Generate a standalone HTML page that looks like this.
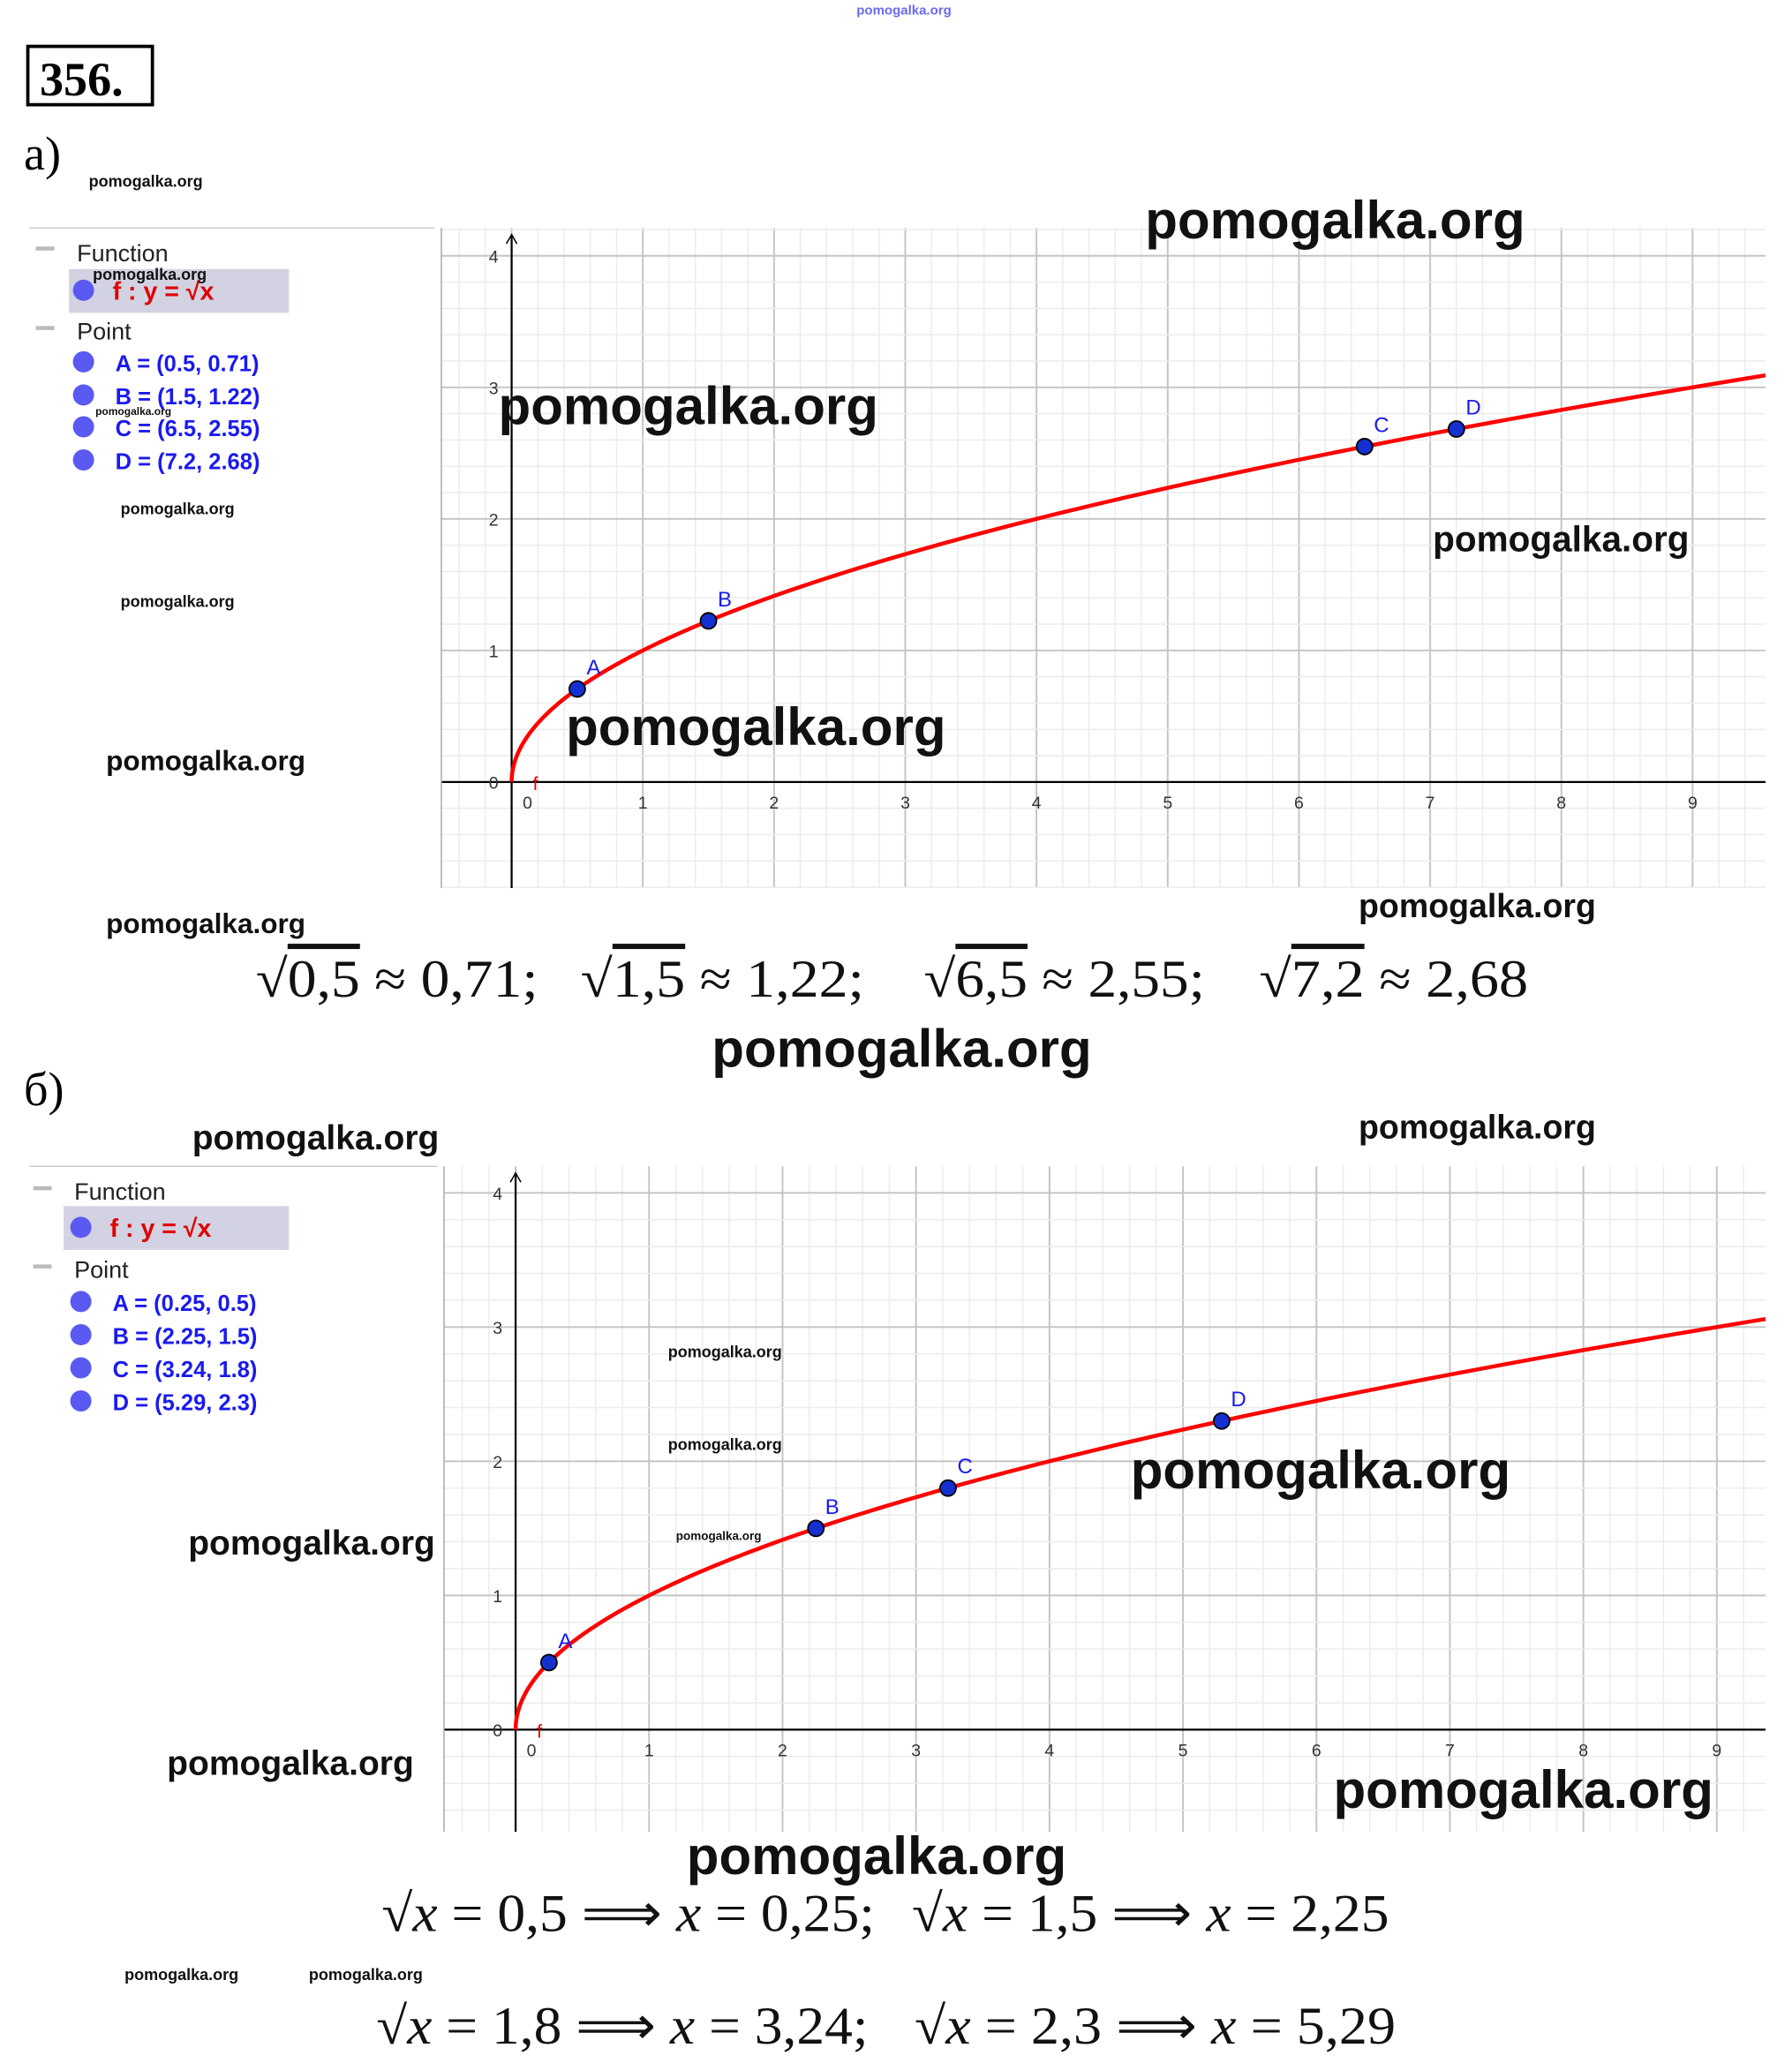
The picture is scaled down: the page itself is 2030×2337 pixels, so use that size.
<!DOCTYPE html>
<html><head><meta charset="utf-8"><style>
html,body{margin:0;padding:0;background:#fff;}
svg{display:block;}
.wm{font-family:"Liberation Sans",sans-serif;font-weight:bold;fill:#111;}
.lp{font-family:"Liberation Sans",sans-serif;font-size:18px;fill:#222;}
.pt{font-family:"Liberation Sans",sans-serif;font-size:17px;font-weight:bold;fill:#1a1aee;}
.fn{font-family:"Liberation Sans",sans-serif;font-size:19px;font-weight:bold;fill:#e00000;}
.tk{font-family:"Liberation Sans",sans-serif;font-size:13px;fill:#333;}
.math{font-family:"Liberation Serif",serif;font-size:40px;fill:#111;}
.pl{font-family:"Liberation Sans",sans-serif;font-size:16px;fill:#1a1aee;}
</style></head><body>
<svg id="s" width="2030" height="2337" viewBox="0 0 1352 1556.5" preserveAspectRatio="none" xmlns="http://www.w3.org/2000/svg">
<rect width="1352" height="1557" fill="#fff"/>
<text x="682" y="11" class="wm" font-size="10" style="fill:#6a6af0" text-anchor="middle">pomogalka.org</text>
<rect x="21" y="35" width="94" height="44" fill="none" stroke="#000" stroke-width="2.5"/>
<text x="30" y="72" font-family="Liberation Serif,serif" font-weight="bold" font-size="36">356.</text>
<text x="18" y="128" font-family="Liberation Serif,serif" font-size="36">а)</text>
<text x="18" y="834" font-family="Liberation Serif,serif" font-size="36">б)</text>
<g id="ga"></g><g id="gb"></g>

<!-- panel a -->
<line x1="22" y1="172" x2="328" y2="172" stroke="#ccc"/>
<line x1="333" y1="172" x2="333" y2="670" stroke="#aaa"/>
<rect x="27" y="186" width="14" height="3" fill="#bbb"/>
<text x="58" y="197" class="lp">Function</text>
<rect x="52" y="203" width="166" height="33" fill="#d2d2e2"/>
<circle cx="63" cy="219" r="8" fill="#5a5af2"/>
<text x="85" y="226" class="fn">f : y = √x</text>
<rect x="27" y="246" width="14" height="3" fill="#bbb"/>
<text x="58" y="256" class="lp">Point</text>
<circle cx="63" cy="273" r="8" fill="#5a5af2"/><text x="87" y="280" class="pt">A = (0.5, 0.71)</text>
<circle cx="63" cy="298" r="8" fill="#5a5af2"/><text x="87" y="305" class="pt">B = (1.5, 1.22)</text>
<circle cx="63" cy="322" r="8" fill="#5a5af2"/><text x="87" y="329" class="pt">C = (6.5, 2.55)</text>
<circle cx="63" cy="347" r="8" fill="#5a5af2"/><text x="87" y="354" class="pt">D = (7.2, 2.68)</text>
<!-- panel b -->
<line x1="22" y1="880" x2="330" y2="880" stroke="#ccc"/>
<line x1="335" y1="880" x2="335" y2="1382" stroke="#aaa"/>
<rect x="25" y="895" width="14" height="3" fill="#bbb"/>
<text x="56" y="905" class="lp">Function</text>
<rect x="48" y="910" width="170" height="33" fill="#d2d2e2"/>
<circle cx="61" cy="926" r="8" fill="#5a5af2"/>
<text x="83" y="933" class="fn">f : y = √x</text>
<rect x="25" y="954" width="14" height="3" fill="#bbb"/>
<text x="56" y="964" class="lp">Point</text>
<circle cx="61" cy="982" r="8" fill="#5a5af2"/><text x="85" y="989" class="pt">A = (0.25, 0.5)</text>
<circle cx="61" cy="1007" r="8" fill="#5a5af2"/><text x="85" y="1014" class="pt">B = (2.25, 1.5)</text>
<circle cx="61" cy="1032" r="8" fill="#5a5af2"/><text x="85" y="1039" class="pt">C = (3.24, 1.8)</text>
<circle cx="61" cy="1057" r="8" fill="#5a5af2"/><text x="85" y="1064" class="pt">D = (5.29, 2.3)</text>

<!-- math -->
<text x="193" y="752" class="math" textLength="213" lengthAdjust="spacingAndGlyphs">√<tspan text-decoration="overline">0,5</tspan> ≈ 0,71;</text>
<text x="438" y="752" class="math" textLength="214" lengthAdjust="spacingAndGlyphs">√<tspan text-decoration="overline">1,5</tspan> ≈ 1,22;</text>
<text x="697" y="752" class="math" textLength="212" lengthAdjust="spacingAndGlyphs">√<tspan text-decoration="overline">6,5</tspan> ≈ 2,55;</text>
<text x="950" y="752" class="math" textLength="203" lengthAdjust="spacingAndGlyphs">√<tspan text-decoration="overline">7,2</tspan> ≈ 2,68</text>
<text x="288" y="1457" class="math" textLength="372" lengthAdjust="spacingAndGlyphs">√<tspan font-style="italic">x</tspan> = 0,5 ⟹ <tspan font-style="italic">x</tspan> = 0,25;</text>
<text x="688" y="1457" class="math" textLength="360" lengthAdjust="spacingAndGlyphs">√<tspan font-style="italic">x</tspan> = 1,5 ⟹ <tspan font-style="italic">x</tspan> = 2,25</text>
<text x="284" y="1542" class="math" textLength="371" lengthAdjust="spacingAndGlyphs">√<tspan font-style="italic">x</tspan> = 1,8 ⟹ <tspan font-style="italic">x</tspan> = 3,24;</text>
<text x="690" y="1542" class="math" textLength="363" lengthAdjust="spacingAndGlyphs">√<tspan font-style="italic">x</tspan> = 2,3 ⟹ <tspan font-style="italic">x</tspan> = 5,29</text>

<!-- watermarks -->
<text x="864" y="180" class="wm" font-size="40">pomogalka.org</text>
<text x="376" y="320" class="wm" font-size="40">pomogalka.org</text>
<text x="427" y="562" class="wm" font-size="40">pomogalka.org</text>
<text x="1081" y="416" class="wm" font-size="27">pomogalka.org</text>
<text x="537" y="805" class="wm" font-size="40">pomogalka.org</text>
<text x="853" y="1123" class="wm" font-size="40">pomogalka.org</text>
<text x="1006" y="1364" class="wm" font-size="40">pomogalka.org</text>
<text x="518" y="1414" class="wm" font-size="40">pomogalka.org</text>
<text x="80" y="581" class="wm" font-size="21">pomogalka.org</text>
<text x="80" y="704" class="wm" font-size="21">pomogalka.org</text>
<text x="1025" y="692" class="wm" font-size="25">pomogalka.org</text>
<text x="145" y="867" class="wm" font-size="26">pomogalka.org</text>
<text x="1025" y="859" class="wm" font-size="25">pomogalka.org</text>
<text x="142" y="1173" class="wm" font-size="26">pomogalka.org</text>
<text x="126" y="1339" class="wm" font-size="26">pomogalka.org</text>
<text x="67" y="141" class="wm" font-size="12">pomogalka.org</text>
<text x="70" y="211" class="wm" font-size="12">pomogalka.org</text>
<text x="91" y="388" class="wm" font-size="12">pomogalka.org</text>
<text x="91" y="458" class="wm" font-size="12">pomogalka.org</text>
<text x="504" y="1024" class="wm" font-size="12">pomogalka.org</text>
<text x="504" y="1094" class="wm" font-size="12">pomogalka.org</text>
<text x="510" y="1162" class="wm" font-size="9">pomogalka.org</text>
<text x="72" y="313" class="wm" font-size="8">pomogalka.org</text>
<text x="94" y="1494" class="wm" font-size="12">pomogalka.org</text>
<text x="233" y="1494" class="wm" font-size="12">pomogalka.org</text>
</svg>
<script>
var NS="http://www.w3.org/2000/svg";
function el(p,n,a){var e=document.createElementNS(NS,n);for(var k in a)e.setAttribute(k,a[k]);p.appendChild(e);return e;}
function chart(id,c,pts){
 var g=document.getElementById(id);
 var X=function(v){return c.ox+v*c.ux},Y=function(v){return c.oy-v*c.uy};
 for(var i=-3;i<=50;i++){var x=X(i*0.2);if(x<c.x0||x>c.x1)continue;el(g,"line",{x1:x,y1:c.y0,x2:x,y2:c.y1,stroke:i%5==0?"#c4c4c4":"#ececec","stroke-width":i%5==0?1.3:1});}
 for(var i=-6;i<=25;i++){var y=Y(i*0.2);if(y<c.y0||y>c.y1)continue;el(g,"line",{x1:c.x0,y1:y,x2:c.x1,y2:y,stroke:i%5==0?"#c4c4c4":"#ececec","stroke-width":i%5==0?1.3:1});}
 el(g,"line",{x1:c.x0,y1:c.oy,x2:c.x1,y2:c.oy,stroke:"#000","stroke-width":1.5});
 el(g,"line",{x1:c.ox,y1:c.y0+5,x2:c.ox,y2:c.y1,stroke:"#000","stroke-width":1.5});
 el(g,"path",{d:"M"+(c.ox-4)+","+(c.y0+12)+"L"+c.ox+","+(c.y0+5)+"L"+(c.ox+4)+","+(c.y0+12),fill:"none",stroke:"#000"});
 for(var i=0;i<=9;i++){var t=el(g,"text",{x:X(i)+(i==0?12:0),y:c.oy+20,"class":"tk","text-anchor":"middle"});t.textContent=i;}
 for(var i=0;i<=4;i++){var t=el(g,"text",{x:c.ox-10,y:Y(i)+5,"class":"tk","text-anchor":"end"});t.textContent=i;}
 var d="M"+X(0)+","+Y(0);for(var v=0.0005;v<=9.6;v*=1.02){var x=X(v);if(x>c.x1)break;d+="L"+x.toFixed(2)+","+Y(Math.sqrt(v)).toFixed(2);}
 var v=(c.x1-c.ox)/c.ux;d+="L"+c.x1+","+Y(Math.sqrt(v));
 el(g,"path",{d:d,fill:"none",stroke:"#f00","stroke-width":3});
 var t=el(g,"text",{x:c.ox+16,y:c.oy+6,fill:"#e00","font-size":"14","font-family":"Liberation Sans"});t.textContent="f";
 pts.forEach(function(p){var x=X(p[1]),y=Y(Math.sqrt(p[1]));el(g,"circle",{cx:x,cy:y,r:6,fill:"#1530d0",stroke:"#000","stroke-width":1.2});var t=el(g,"text",{x:x+7,y:y-11,"class":"pl"});t.textContent=p[0];});
}
chart("ga",{x0:333,x1:1332,y0:172,y1:670,ox:386,oy:590,ux:99,uy:99.25},[["A",0.5],["B",1.5],["C",6.5],["D",7.2]]);
chart("gb",{x0:335,x1:1332,y0:880,y1:1382,ox:389,oy:1305,ux:100.7,uy:101.25},[["A",0.25],["B",2.25],["C",3.24],["D",5.29]]);
</script>
</body></html>
